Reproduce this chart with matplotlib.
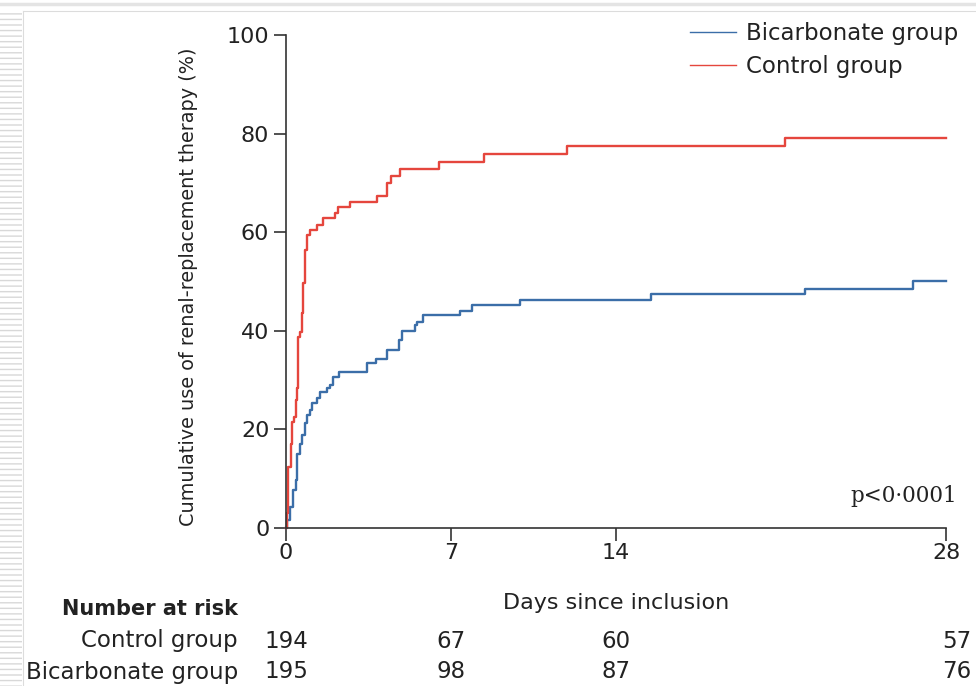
import matplotlib
matplotlib.use("Agg")
import matplotlib.pyplot as plt
from matplotlib.patches import Rectangle
from matplotlib.lines import Line2D
import matplotlib.transforms as mtransforms

# ---- data ----
control_days = [0, 0.03, 0.10, 0.20, 0.27, 0.34, 0.41, 0.48, 0.52, 0.59, 0.66, 0.73, 0.80, 0.87,
                1.02, 1.30, 1.58, 2.08, 2.22, 2.72, 3.85, 4.30, 4.44, 4.84, 6.50, 8.40, 11.93, 21.17, 28]
control_pct = [0, 3.0, 12.4, 17.0, 21.5, 22.6, 26.0, 28.4, 38.8, 39.8, 43.6, 49.7, 56.4, 59.4,
               60.4, 61.5, 62.8, 63.8, 65.2, 66.2, 67.3, 70.0, 71.5, 72.9, 74.3, 75.8, 77.5, 79.2, 79.2]

bicarb_days = [0, 0.06, 0.17, 0.31, 0.41, 0.48, 0.59, 0.66, 0.80, 0.87, 1.02, 1.09, 1.30, 1.44,
               1.73, 1.87, 1.98, 2.26, 3.45, 3.81, 4.27, 4.80, 4.90, 5.47, 5.54, 5.80, 7.40, 7.90,
               9.93, 15.5, 22.0, 26.6, 28]
bicarb_pct = [0, 1.6, 4.3, 7.7, 9.7, 15.1, 17.1, 18.8, 21.2, 22.9, 23.9, 25.3, 26.3, 27.6,
              28.3, 29.1, 30.6, 31.6, 33.5, 34.2, 36.2, 38.1, 40.0, 41.2, 41.8, 43.2, 44.0, 45.2,
              46.3, 47.5, 48.5, 50.1, 50.1]

x_ticks = [0, 7, 14, 28]
y_ticks = [0, 20, 40, 60, 80, 100]
risk_days = [0, 7, 14, 28]
risk_control = [194, 67, 60, 57]
risk_bicarb = [195, 98, 87, 76]

BLUE = "#3b6ea8"
RED = "#e5463d"
AXC = "#333333"
TXT = "#222222"
SANS = ["DejaVu Sans"]

fig = plt.figure(figsize=(9.76, 6.86), dpi=100)
fig.patch.set_facecolor("white")

# slide-like frame decoration
fig.patches.append(Rectangle((0, 0), 22/976, 1 - 12/686, transform=fig.transFigure,
                             facecolor="white", edgecolor="#d8d8d8", linewidth=0,
                             hatch="---", zorder=0))
fig.lines.append(Line2D([0, 1], [1 - 4/686, 1 - 4/686], transform=fig.transFigure,
                        color="#e4e4e4", lw=2.5))
fig.lines.append(Line2D([23/976, 1], [1 - 11/686, 1 - 11/686], transform=fig.transFigure,
                        color="#dcdcdc", lw=0.8))
fig.lines.append(Line2D([23/976, 23/976], [0, 1 - 11/686], transform=fig.transFigure,
                        color="#dcdcdc", lw=0.8))

ax = fig.add_axes([286/976, 1 - 528/686, 660/976, 493/686])
ax.step(bicarb_days, bicarb_pct, where="post", color=BLUE, lw=1.7, clip_on=False,
        label="Bicarbonate group")
ax.step(control_days, control_pct, where="post", color=RED, lw=1.7, clip_on=False,
        label="Control group")

ax.set_xlim(0, 28)
ax.set_ylim(0, 100)
ax.set_xticks(x_ticks)
ax.set_yticks(y_ticks)
for s in ["top", "right"]:
    ax.spines[s].set_visible(False)
for s in ["left", "bottom"]:
    ax.spines[s].set_color(AXC)
    ax.spines[s].set_linewidth(1.2)
ax.tick_params(direction="out", length=9, width=1.2, color=AXC, labelsize=16,
               labelcolor=TXT)
ax.tick_params(axis="y", pad=3)
ax.tick_params(axis="x", pad=2)

ax.set_ylabel("Cumulative use of renal-replacement therapy (%)", family=SANS,
              fontsize=13.9, color=TXT)
ax.yaxis.set_label_coords(-0.134, 0.49)
ax.set_xlabel("Days since inclusion", family=SANS, fontsize=16, color=TXT)
ax.xaxis.set_label_coords(0.5, -0.132)

ax.text(1.017, 0.065, "p<0\u00b70001", transform=ax.transAxes, ha="right", va="center",
        family="DejaVu Serif", fontsize=15.5, color=TXT)

leg = ax.legend(loc="upper left", bbox_to_anchor=(690/976, 1 - 22/686),
                bbox_transform=fig.transFigure, frameon=False, fontsize=16.5,
                handlelength=2.0, handletextpad=0.45, labelspacing=0.45, borderpad=0,
                borderaxespad=0)
for t in leg.get_texts():
    t.set_color(TXT)
for h in leg.legend_handles:
    h.set_linewidth(1.0)

# number at risk table
trans = mtransforms.blended_transform_factory(ax.transData, fig.transFigure)
lab_x = 238/976
fig.text(lab_x, 1 - 609/686, "Number at risk", ha="right", va="center", family=SANS,
         fontsize=15, fontweight="bold", color=TXT)
fig.text(lab_x, 1 - 641/686, "Control group", ha="right", va="center", family=SANS,
         fontsize=16.5, color=TXT)
fig.text(lab_x, 1 - 672/686, "Bicarbonate group", ha="right", va="center", family=SANS,
         fontsize=16.5, color=TXT)
for d, c, b in zip(risk_days, risk_control, risk_bicarb):
    xd = d + (0.45 if d == 28 else 0)
    ax.text(xd, 1 - 641/686, str(c), transform=trans, ha="center", va="center",
            family=SANS, fontsize=16.5, color=TXT, clip_on=False)
    ax.text(xd, 1 - 672/686, str(b), transform=trans, ha="center", va="center",
            family=SANS, fontsize=16.5, color=TXT, clip_on=False)

fig.savefig("out.png", dpi=100)
